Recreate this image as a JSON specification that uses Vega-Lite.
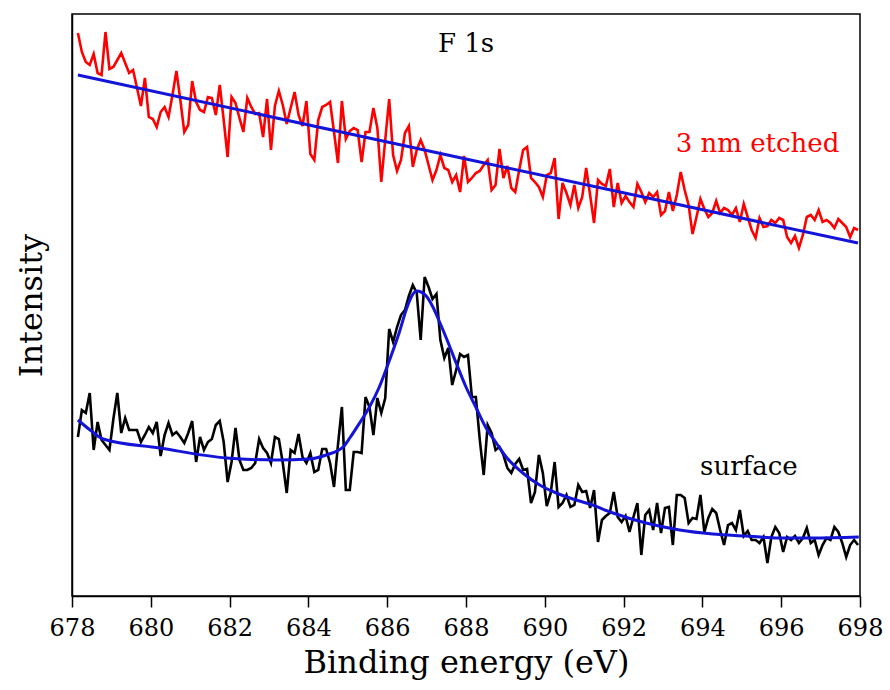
{
  "$schema": "https://vega.github.io/schema/vega-lite/v6.json",
  "width": 788,
  "height": 582,
  "autosize": {"type": "none"},
  "padding": {"left": 72, "top": 14, "right": 30, "bottom": 94},
  "background": "white",
  "config": {
    "view": {"stroke": "#000000", "strokeWidth": 1.5},
    "font": "DejaVu Serif",
    "text": {"font": "DejaVu Serif"},
    "axis": {
      "labelFont": "DejaVu Serif",
      "titleFont": "DejaVu Serif",
      "titleFontWeight": "normal",
      "labelColor": "#000000",
      "titleColor": "#000000",
      "domainColor": "#000000",
      "tickColor": "#000000",
      "domainWidth": 1.5,
      "tickWidth": 1.5,
      "grid": false
    }
  },
  "datasets": {
    "scan": [
      {"energy":678.15,"etched":563,"surface":159},{"energy":678.25,"etched":544,"surface":186},{"energy":678.35,"etched":534,"surface":183},{"energy":678.45,"etched":531,"surface":203},{"energy":678.55,"etched":542,"surface":146},{"energy":678.65,"etched":523,"surface":174},{"energy":678.75,"etched":521,"surface":156},{"energy":678.85,"etched":564,"surface":151},{"energy":678.95,"etched":527,"surface":146},{"energy":679.05,"etched":529,"surface":177},
      {"energy":679.15,"etched":536,"surface":203},{"energy":679.25,"etched":543,"surface":163},{"energy":679.35,"etched":533,"surface":178},{"energy":679.45,"etched":523,"surface":166},{"energy":679.55,"etched":526,"surface":166},{"energy":679.65,"etched":508,"surface":166},{"energy":679.75,"etched":490,"surface":154},{"energy":679.85,"etched":518,"surface":161},{"energy":679.95,"etched":479,"surface":169},{"energy":680.05,"etched":477,"surface":163},
      {"energy":680.15,"etched":469,"surface":174},{"energy":680.25,"etched":484,"surface":140},{"energy":680.35,"etched":489,"surface":161},{"energy":680.45,"etched":479,"surface":173},{"energy":680.55,"etched":501,"surface":161},{"energy":680.65,"etched":525,"surface":164},{"energy":680.75,"etched":496,"surface":159},{"energy":680.85,"etched":464,"surface":153},{"energy":680.95,"etched":471,"surface":163},{"energy":681.05,"etched":515,"surface":175},
      {"energy":681.15,"etched":494,"surface":134},{"energy":681.25,"etched":486,"surface":159},{"energy":681.35,"etched":484,"surface":146},{"energy":681.45,"etched":499,"surface":154},{"energy":681.55,"etched":498,"surface":157},{"energy":681.65,"etched":481,"surface":171},{"energy":681.75,"etched":511,"surface":175},{"energy":681.85,"etched":476,"surface":154},{"energy":681.95,"etched":439,"surface":114},{"energy":682.05,"etched":499,"surface":134},
      {"energy":682.15,"etched":493,"surface":168},{"energy":682.25,"etched":478,"surface":136},{"energy":682.35,"etched":464,"surface":126},{"energy":682.45,"etched":498,"surface":126},{"energy":682.55,"etched":489,"surface":128},{"energy":682.65,"etched":482,"surface":133},{"energy":682.75,"etched":483,"surface":157},{"energy":682.85,"etched":459,"surface":148},{"energy":682.95,"etched":497,"surface":143},{"energy":683.05,"etched":446,"surface":133},
      {"energy":683.15,"etched":490,"surface":159},{"energy":683.25,"etched":505,"surface":157},{"energy":683.35,"etched":491,"surface":133},{"energy":683.45,"etched":472,"surface":103},{"energy":683.55,"etched":488,"surface":146},{"energy":683.65,"etched":504,"surface":143},{"energy":683.75,"etched":481,"surface":162},{"energy":683.85,"etched":470,"surface":139},{"energy":683.95,"etched":495,"surface":133},{"energy":684.05,"etched":442,"surface":143},
      {"energy":684.15,"etched":436,"surface":124},{"energy":684.25,"etched":476,"surface":126},{"energy":684.35,"etched":489,"surface":147},{"energy":684.45,"etched":491,"surface":147},{"energy":684.55,"etched":494,"surface":133},{"energy":684.65,"etched":464,"surface":109},{"energy":684.75,"etched":433,"surface":151},{"energy":684.85,"etched":495,"surface":189},{"energy":684.95,"etched":457,"surface":106},{"energy":685.05,"etched":465,"surface":106},
      {"energy":685.15,"etched":468,"surface":144},{"energy":685.25,"etched":466,"surface":144},{"energy":685.35,"etched":434,"surface":143},{"energy":685.45,"etched":464,"surface":199},{"energy":685.55,"etched":464,"surface":189},{"energy":685.65,"etched":488,"surface":161},{"energy":685.75,"etched":468,"surface":198},{"energy":685.85,"etched":414,"surface":183},{"energy":685.95,"etched":456,"surface":198},{"energy":686.05,"etched":497,"surface":267},
      {"energy":686.15,"etched":441,"surface":254},{"energy":686.25,"etched":425,"surface":269},{"energy":686.35,"etched":436,"surface":281},{"energy":686.45,"etched":463,"surface":286},{"energy":686.55,"etched":470,"surface":300},{"energy":686.65,"etched":429,"surface":311},{"energy":686.75,"etched":446,"surface":303},{"energy":686.85,"etched":456,"surface":256},{"energy":686.95,"etched":446,"surface":319},{"energy":687.05,"etched":431,"surface":309},
      {"energy":687.15,"etched":416,"surface":297},{"energy":687.25,"etched":426,"surface":302},{"energy":687.35,"etched":441,"surface":256},{"energy":687.45,"etched":428,"surface":238},{"energy":687.55,"etched":426,"surface":248},{"energy":687.65,"etched":414,"surface":211},{"energy":687.75,"etched":421,"surface":226},{"energy":687.85,"etched":404,"surface":242},{"energy":687.95,"etched":440,"surface":239},{"energy":688.05,"etched":414,"surface":241},
      {"energy":688.15,"etched":418,"surface":199},{"energy":688.25,"etched":423,"surface":199},{"energy":688.35,"etched":425,"surface":156},{"energy":688.45,"etched":431,"surface":121},{"energy":688.55,"etched":436,"surface":171},{"energy":688.65,"etched":406,"surface":163},{"energy":688.75,"etched":411,"surface":146},{"energy":688.85,"etched":447,"surface":149},{"energy":688.95,"etched":418,"surface":141},{"energy":689.05,"etched":430,"surface":128},
      {"energy":689.15,"etched":408,"surface":123},{"energy":689.25,"etched":404,"surface":132},{"energy":689.35,"etched":426,"surface":137},{"energy":689.45,"etched":446,"surface":126},{"energy":689.55,"etched":449,"surface":127},{"energy":689.65,"etched":418,"surface":93},{"energy":689.75,"etched":414,"surface":104},{"energy":689.85,"etched":409,"surface":141},{"energy":689.95,"etched":399,"surface":123},{"energy":690.05,"etched":421,"surface":90},
      {"energy":690.15,"etched":423,"surface":103},{"energy":690.25,"etched":438,"surface":134},{"energy":690.35,"etched":377,"surface":89},{"energy":690.45,"etched":413,"surface":93},{"energy":690.55,"etched":403,"surface":101},{"energy":690.65,"etched":391,"surface":89},{"energy":690.75,"etched":411,"surface":91},{"energy":690.85,"etched":388,"surface":111},{"energy":690.95,"etched":399,"surface":104},{"energy":691.05,"etched":428,"surface":105},
      {"energy":691.15,"etched":401,"surface":88},{"energy":691.25,"etched":373,"surface":106},{"energy":691.35,"etched":416,"surface":54},{"energy":691.45,"etched":412,"surface":76},{"energy":691.55,"etched":410,"surface":80},{"energy":691.65,"etched":427,"surface":83},{"energy":691.75,"etched":389,"surface":104},{"energy":691.85,"etched":413,"surface":79},{"energy":691.95,"etched":393,"surface":74},{"energy":692.05,"etched":400,"surface":80},
      {"energy":692.15,"etched":394,"surface":64},{"energy":692.25,"etched":389,"surface":79},{"energy":692.35,"etched":412,"surface":93},{"energy":692.45,"etched":404,"surface":41},{"energy":692.55,"etched":394,"surface":81},{"energy":692.65,"etched":403,"surface":86},{"energy":692.75,"etched":399,"surface":66},{"energy":692.85,"etched":404,"surface":93},{"energy":692.95,"etched":381,"surface":63},{"energy":693.05,"etched":385,"surface":88},
      {"energy":693.15,"etched":404,"surface":89},{"energy":693.25,"etched":385,"surface":51},{"energy":693.35,"etched":401,"surface":101},{"energy":693.45,"etched":424,"surface":101},{"energy":693.55,"etched":406,"surface":98},{"energy":693.65,"etched":391,"surface":73},{"energy":693.75,"etched":362,"surface":78},{"energy":693.85,"etched":379,"surface":77},{"energy":693.95,"etched":397,"surface":101},{"energy":694.05,"etched":387,"surface":64},
      {"energy":694.15,"etched":379,"surface":78},{"energy":694.25,"etched":383,"surface":87},{"energy":694.35,"etched":395,"surface":83},{"energy":694.45,"etched":383,"surface":66},{"energy":694.55,"etched":388,"surface":51},{"energy":694.65,"etched":386,"surface":71},{"energy":694.75,"etched":381,"surface":73},{"energy":694.85,"etched":388,"surface":66},{"energy":694.95,"etched":374,"surface":86},{"energy":695.05,"etched":392,"surface":60},
      {"energy":695.15,"etched":379,"surface":65},{"energy":695.25,"etched":366,"surface":56},{"energy":695.35,"etched":358,"surface":56},{"energy":695.45,"etched":378,"surface":53},{"energy":695.55,"etched":369,"surface":59},{"energy":695.65,"etched":370,"surface":33},{"energy":695.75,"etched":376,"surface":59},{"energy":695.85,"etched":373,"surface":69},{"energy":695.95,"etched":378,"surface":63},{"energy":696.05,"etched":376,"surface":44},
      {"energy":696.15,"etched":359,"surface":59},{"energy":696.25,"etched":353,"surface":56},{"energy":696.35,"etched":360,"surface":60},{"energy":696.45,"etched":348,"surface":53},{"energy":696.55,"etched":361,"surface":58},{"energy":696.65,"etched":379,"surface":68},{"energy":696.75,"etched":381,"surface":53},{"energy":696.85,"etched":376,"surface":56},{"energy":696.95,"etched":386,"surface":41},{"energy":697.05,"etched":374,"surface":51},
      {"energy":697.15,"etched":376,"surface":58},{"energy":697.25,"etched":373,"surface":56},{"energy":697.35,"etched":368,"surface":69},{"energy":697.45,"etched":377,"surface":64},{"energy":697.55,"etched":373,"surface":53},{"energy":697.65,"etched":369,"surface":39},{"energy":697.75,"etched":359,"surface":51},{"energy":697.85,"etched":368,"surface":56},{"energy":697.95,"etched":366,"surface":51}
    ],
    "etchedFit": [
      {"energy":678.15,"fit":521},{"energy":688.0,"fit":437},{"energy":697.95,"fit":353}
    ],
    "surfaceFit": [
      {"energy":678.15,"fit":176},{"energy":678.46,"fit":166},{"energy":678.79,"fit":157},{"energy":680.22,"fit":148},{"energy":681.92,"fit":138},{"energy":683.19,"fit":136},{"energy":684.03,"fit":137},{"energy":684.45,"fit":141},{"energy":684.88,"fit":149},{"energy":685.05,"fit":158},{"energy":685.3,"fit":173},{"energy":685.55,"fit":189},{"energy":685.8,"fit":209},{"energy":686.06,"fit":236},{"energy":686.31,"fit":264},{"energy":686.48,"fit":286},{"energy":686.61,"fit":299},{"energy":686.74,"fit":305},{"energy":686.86,"fit":304},{"energy":686.99,"fit":300},{"energy":687.16,"fit":289},{"energy":687.33,"fit":274},{"energy":687.5,"fit":258},{"energy":687.75,"fit":233},{"energy":688.0,"fit":209},{"energy":688.26,"fit":188},{"energy":688.51,"fit":168},{"energy":688.77,"fit":153},{"energy":689.02,"fit":139},{"energy":689.44,"fit":123},{"energy":689.87,"fit":111},{"energy":690.29,"fit":103},{"energy":690.71,"fit":97},{"energy":691.14,"fit":92},{"energy":691.73,"fit":83},{"energy":692.57,"fit":73},{"energy":693.42,"fit":66},{"energy":694.26,"fit":62},{"energy":695.11,"fit":60},{"energy":695.95,"fit":58},{"energy":696.8,"fit":58},{"energy":697.97,"fit":59}
    ],
    "labels": [
      {"energy":688.0,"intensity":544,"label":"F 1s"},
      {"energy":695.4,"intensity":444,"label":"3 nm etched"},
      {"energy":695.18,"intensity":121,"label":"surface"}
    ]
  },
  "layer": [
    {
      "data": {"name": "scan"},
      "mark": {"type": "line", "color": "#ff0000", "strokeWidth": 2.6, "clip": true},
      "encoding": {
        "x": {
          "field": "energy", "type": "quantitative",
          "scale": {"domain": [678, 698], "nice": false, "zero": false},
          "axis": {
            "title": "Binding energy (eV)",
            "values": [678,679,680,681,682,683,684,685,686,687,688,689,690,691,692,693,694,695,696,697,698],
            "labelExpr": "datum.value % 2 === 0 ? datum.label : ''",
            "labelFontSize": 24,
            "labelFlush": false,
            "labelOverlap": false,
            "labelPadding": 9,
            "tickSize": {"condition": {"test": "datum.value % 2 === 0", "value": 11}, "value": 6},
            "titleFontSize": 32,
            "titlePadding": 7
          }
        },
        "y": {
          "field": "etched", "type": "quantitative",
          "scale": {"domain": [0, 582], "nice": false, "zero": false},
          "axis": {
            "title": "Intensity",
            "ticks": false,
            "labels": false,
            "titleFontSize": 32,
            "titlePadding": 24
          }
        }
      }
    },
    {
      "data": {"name": "etchedFit"},
      "mark": {"type": "line", "color": "#1414d8", "strokeWidth": 3, "clip": true},
      "encoding": {
        "x": {"field": "energy", "type": "quantitative"},
        "y": {"field": "fit", "type": "quantitative"}
      }
    },
    {
      "data": {"name": "scan"},
      "mark": {"type": "line", "color": "#000000", "strokeWidth": 2.6, "clip": true},
      "encoding": {
        "x": {"field": "energy", "type": "quantitative"},
        "y": {"field": "surface", "type": "quantitative"}
      }
    },
    {
      "data": {"name": "surfaceFit"},
      "mark": {"type": "line", "color": "#1414d8", "strokeWidth": 3, "interpolate": "monotone", "clip": true},
      "encoding": {
        "x": {"field": "energy", "type": "quantitative"},
        "y": {"field": "fit", "type": "quantitative"}
      }
    },
    {
      "data": {"name": "labels"},
      "mark": {"type": "text", "font": "DejaVu Serif", "fontSize": 26, "align": "center", "baseline": "alphabetic"},
      "encoding": {
        "x": {"field": "energy", "type": "quantitative"},
        "y": {"field": "intensity", "type": "quantitative"},
        "text": {"field": "label"},
        "color": {
          "field": "label", "type": "nominal",
          "scale": {"domain": ["F 1s", "3 nm etched", "surface"], "range": ["#000000", "#ff0000", "#000000"]},
          "legend": null
        }
      }
    }
  ]
}
